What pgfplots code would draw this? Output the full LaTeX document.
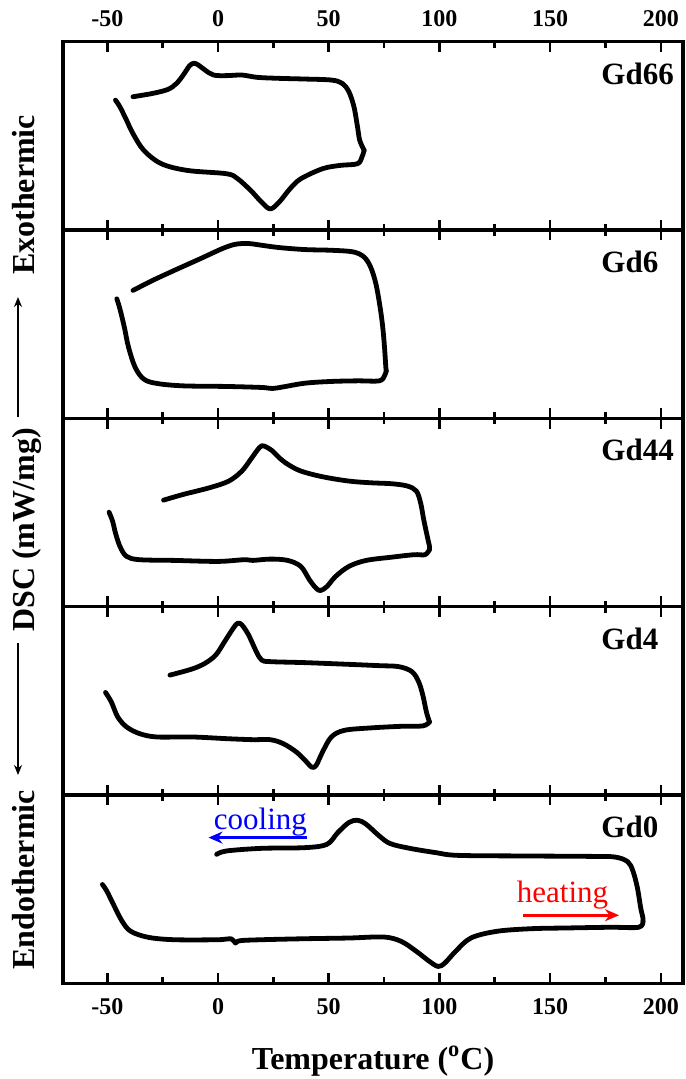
\documentclass[border=0pt]{standalone}
\usepackage{fontspec}
\setmainfont{Liberation Serif}
\usepackage{pgfplots}
\pgfplotsset{compat=1.18}
\usetikzlibrary{arrows.meta}

\pgfplotsset{
  dscpanel/.style={
    scale only axis, width=310pt, height=94.15pt,
    xmin=-70, xmax=210, ymin=0, ymax=187.5,
    axis line style={line width=1.6pt},
    xtick={-50,0,50,100,150,200},
    minor xtick={-25,25,75,125,175},
    ytick=\empty,
    tick align=inside,
    xtick pos=both,
    major tick length=5.2pt, minor tick length=3pt,
    every tick/.append style={black, line width=1.3pt},
    anchor=north west,
    clip=false,
    tick label style={font=\fontsize{12}{14}\selectfont\bfseries},
    /pgf/number format/assume math mode=true,
  },
}
\tikzset{
  curve/.style={black, line width=2.4pt, smooth, tension=0.55, line join=round, line cap=round},
  gdlabel/.style={anchor=north west, inner sep=0pt, font=\fontsize{15.5}{18}\selectfont\bfseries},
}

\begin{document}
\begin{tikzpicture}
\path[use as bounding box] (0,0) rectangle (342.5pt,-539.5pt);

% ---------- Gd66 ----------
\begin{axis}[dscpanel, at={(31.5pt,-20.85pt)}, xticklabel pos=upper, xticklabel style={yshift=4pt}]
\addplot[curve] coordinates {
(-46.3,129.3) (-44.3,122.7) (-41.3,109.3) (-38.4,96) (-33.5,79.3) (-25.6,66)
(-13.8,59.3) (3.9,56) (8.9,51) (14.8,39.3) (19.7,27.7) (23.6,21) (27.6,27.7)
(32.5,41) (37.4,51) (47.2,61) (55.1,64.3) (63,66) (65,72.7) (66,79.3)};
\addplot[curve] coordinates {
(66,79.3) (64,89.3) (63,102.7) (61.4,122.7) (59.1,137.7) (56.1,146) (51.2,149.3)
(39.4,150.3) (27.6,151) (17.7,152) (10.8,154.3) (3.9,153.7) (-2,154.3)
(-5.9,159.3) (-8.9,164.3) (-10.8,166) (-12.8,163.7) (-15.7,154.3) (-18.7,146)
(-22.6,140) (-29.5,136) (-38.4,132.7)};
\node[gdlabel] at (axis cs:173,167) {Gd66};
\end{axis}

% ---------- Gd6 ----------
\begin{axis}[dscpanel, at={(31.5pt,-115pt)}, xticklabels={}]
\addplot[curve] coordinates {
(-45.7,119) (-44.3,109) (-42.3,90.7) (-40.4,70.7) (-37.4,50.7) (-33.5,39)
(-27.6,34.7) (-15.7,32.3) (3.9,31.7) (19.7,30.7) (24.6,29.7) (29.5,31.3)
(39.4,35) (51.2,36.7) (63,37.3) (72.8,37.3) (75.2,42.3) (76,47.3)};
\addplot[curve] coordinates {
(76,47.3) (75.8,50.7) (75.2,70.7) (74.4,90.7) (73.2,110.7) (71.3,134) (68.9,150.7)
(65.9,160.7) (61,165.7) (51.2,167.3) (39.4,168) (27.6,170) (19.7,172.3)
(13.8,174) (7.9,173.3) (2,169) (-7.9,159) (-19.7,147.3) (-29.5,137.3) (-38.4,127.3)};
\node[gdlabel] at (axis cs:173,167) {Gd6};
\end{axis}

% ---------- Gd44 ----------
\begin{axis}[dscpanel, at={(31.5pt,-209.15pt)}, xticklabels={}]
\addplot[curve] coordinates {
(-49.2,94) (-47.6,85) (-46.3,73.3) (-44.3,60) (-41.3,50) (-35.4,46.7) (-19.7,46)
(0,45) (11.8,46.7) (15.7,46) (23.6,47.3) (31.5,46) (37.4,40) (41.3,26.7)
(44.3,18.3) (46.3,16) (49.2,20) (53.1,30) (59.1,40) (66.9,46) (78.7,49.3)
(88.6,51.7) (93.5,51.7) (95.5,56.7)};
\addplot[curve] coordinates {
(95.5,56.7) (95.5,60) (94.5,70) (92.9,86.7) (91.5,103.3) (89.6,115) (85.6,120)
(78.7,122.3) (68.9,123.3) (59.1,125) (47.2,129.3) (37.4,135) (31.5,141.7)
(27.6,148.3) (24.6,155) (20.7,160) (18.7,158.3) (14.8,146.7) (10.8,135)
(4.9,125) (-3.9,118.3) (-15.7,111.7) (-24.6,106)};
\node[gdlabel] at (axis cs:173,167) {Gd44};
\end{axis}

% ---------- Gd4 ----------
\begin{axis}[dscpanel, at={(31.5pt,-303.3pt)}, xticklabels={}]
\addplot[curve] coordinates {
(-50.8,102) (-48.2,92.7) (-45.3,77.7) (-41.3,67.7) (-35.4,61) (-27.6,57.7)
(-11.8,57.7) (3.9,56) (15.7,55) (23.6,55) (29.5,51) (35.4,42.7) (39.4,34.3)
(42.3,27.7) (44.3,29.3) (47.2,42.7) (51.2,57.7) (57.1,64.3) (68.9,66.7)
(82.7,68.3) (92.5,68.7) (95.5,72.7)};
\addplot[curve] coordinates {
(95.5,72.7) (94.1,82.7) (92.5,99.3) (90.6,112.7) (87.6,122.7) (81.7,127.7)
(72.8,128.7) (59.1,130) (39.4,131.7) (23.6,132.7) (19.7,134.3) (17.3,142.7)
(13.8,159.3) (10.8,169.3) (8.9,171) (6.9,166) (3,152.7) (-1,139.3) (-5.9,131)
(-11.8,125.3) (-21.7,119.3)};
\node[gdlabel] at (axis cs:173,167) {Gd4};
\end{axis}

% ---------- Gd0 ----------
\begin{axis}[dscpanel, at={(31.5pt,-397.45pt)}, xticklabel style={yshift=-4pt}]
\addplot[curve] coordinates {
(-52.2,98.3) (-50.2,91.7) (-47.2,78.3) (-43.3,61.7) (-39.4,51.7) (-31.5,45.7)
(-19.7,43.3) (0,43.3) (5.9,44.3) (7.9,40) (9.8,42.3) (19.7,43.3) (39.4,44.3)
(59.1,45) (74.8,46) (82.7,41.7) (89.6,31.7) (95.5,21.7) (99.4,16.7) (102.4,20)
(107.3,31.7) (114.2,45) (126,51.7) (141.7,54.3) (157.5,55) (177.2,55.7)
(190,55.7) (191.9,61.7)};
\addplot[curve] coordinates {
(191.9,61.7) (191.9,65) (190.9,75) (189.4,95) (187.4,111.7) (185,121) (179.1,125.7)
(167.3,126.3) (137.8,126.7) (108.3,127.3) (98.4,130) (86.6,134.3) (77.8,139)
(72.8,146.7) (66.9,158.3) (63,162.3) (59.1,160) (54.1,150) (49.2,138.3)
(39.4,135) (19.7,134.3) (3.9,131.7) (-0.6,128.3)};
\node[gdlabel] at (axis cs:173,167) {Gd0};
\node[anchor=base west, inner sep=0pt, text=blue, font=\fontsize{15.5}{18}\selectfont] at (axis cs:-2,153.3) {cooling};
\draw[blue, line width=1.6pt, -{Stealth[length=7pt,width=6pt]}] (axis cs:40.4,145) -- (axis cs:-4.3,145);
\node[anchor=base west, inner sep=0pt, text=red, font=\fontsize{15.5}{18}\selectfont] at (axis cs:134.8,80) {heating};
\draw[red, line width=1.6pt, -{Stealth[length=7pt,width=6pt]}] (axis cs:137.8,67.7) -- (axis cs:181.1,67.7);
\end{axis}

% ---------- labels ----------
\node[anchor=base, inner sep=0pt, font=\fontsize{16}{19}\selectfont\bfseries] at (186.5pt,-534.5pt) {Temperature (\textsuperscript{o}C)};
\node[rotate=90, anchor=base, inner sep=0pt, font=\fontsize{16}{19}\selectfont\bfseries] at (17pt,-97.5pt) {Exothermic};
\node[rotate=90, anchor=base, inner sep=0pt, font=\fontsize{16}{19}\selectfont\bfseries] at (17pt,-265pt) {DSC (mW/mg)};
\node[rotate=90, anchor=base, inner sep=0pt, font=\fontsize{16}{19}\selectfont\bfseries] at (17pt,-440pt) {Endothermic};
\draw[line width=0.7pt, -{Stealth[length=5pt,width=4pt]}] (9pt,-208.5pt) -- (9pt,-148.5pt);
\draw[line width=0.7pt, -{Stealth[length=5pt,width=4pt]}] (9pt,-321.5pt) -- (9pt,-387.5pt);
\end{tikzpicture}
\end{document}
